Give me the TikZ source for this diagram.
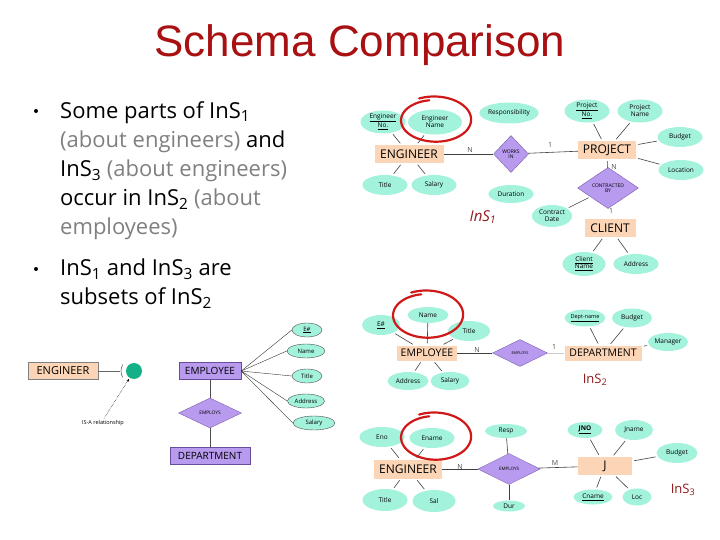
\documentclass[tikz,border=0pt]{standalone}
\usepackage{fontspec}
\setmainfont{Open Sans}
\newfontfamily\titlefont{Liberation Sans}
\usepackage{xcolor}
\usetikzlibrary{arrows.meta, positioning, shapes.geometric}
\definecolor{slidered}{HTML}{A81012}
\definecolor{insred}{HTML}{8E1A1C}
\definecolor{entfill}{HTML}{FBD5B5}
\definecolor{attfill}{HTML}{A3F2DC}
\definecolor{relfill}{HTML}{B89AEE}
\definecolor{reldraw}{HTML}{6A4C9C}
\definecolor{isateal}{HTML}{14B088}
\definecolor{ringred}{HTML}{D01818}
\definecolor{notegray}{HTML}{808080}

\begin{document}
\begin{tikzpicture}[
  x=1pt, y=-1pt,
  every node/.style={inner sep=0pt},
  entity/.style={rectangle, fill=entfill, minimum height=18pt,
    font=\fontsize{12}{12}\selectfont},
  attr/.style={ellipse, fill=attfill, minimum width=45pt, minimum height=21pt,
    align=center, font=\fontsize{6.5}{7}\selectfont},
  rel/.style={diamond, fill=relfill, draw=reldraw, line width=0.3pt,
    align=center, font=\fontsize{5}{5.5}\selectfont},
  link/.style={draw=black!75, line width=0.6pt, shorten <=2pt, shorten >=2pt},
  card/.style={font=\fontsize{7}{7}\selectfont, text=black!70},
  ring/.style={draw=ringred, line width=2.2pt, line cap=round},
  inslbl/.style={text=insred, font=\fontsize{14}{14}\selectfont},
  bulletdot/.style={circle, fill=black, minimum size=4pt},
  bodytext/.style={anchor=north west, align=left,
    font=\fontsize{22}{29}\selectfont}
]
\useasboundingbox (0,0) rectangle (720,540);

%% Title
\node[font=\titlefont\fontsize{44}{44}\selectfont, text=slidered] (title)
  at (360,45) {Schema Comparison};

%% ── BULLETS ─────────────────────────────────────────────
\node[bulletdot] (dot1) at (36,111) {};
\node[bodytext] (txt1) at (60,101)
  {Some parts of InS\textsubscript{1}\\
   \textcolor{notegray}{(about engineers)} and\\
   InS\textsubscript{3} \textcolor{notegray}{(about engineers)}\\
   occur in InS\textsubscript{2} \textcolor{notegray}{(about}\\
   \textcolor{notegray}{employees)}};
\node[bulletdot] (dot2) at (36,269) {};
\node[bodytext] (txt2) at (60,259)
  {InS\textsubscript{1} and InS\textsubscript{3} are\\
   subsets of InS\textsubscript{2}};

%% ── InS1 ────────────────────────────────────────────────
\node[entity, minimum width=69pt] (eng1) at (409,154) {ENGINEER};
\node[attr, minimum height=23pt] (engno) at (383,122)
  {\underline{Engineer}\\\underline{No.}};
\node[attr, minimum width=54pt, minimum height=25pt] (engnm) at (435,122)
  {Engineer\\Name};
\node[attr, minimum width=58pt] (resp1) at (509,113) {Responsibility};
\node[attr, minimum height=20pt] (title1) at (385,185) {Title};
\node[attr, minimum height=20pt] (sal1) at (434,185) {Salary};
\node[rel, minimum width=35pt, minimum height=37pt] (works) at (511,154)
  {WORKS\\IN};
\node[entity, minimum width=58pt] (proj) at (607,150) {PROJECT};
\node[attr, minimum height=23pt] (projno) at (587,111)
  {\underline{Project}\\\underline{No.}};
\node[attr, minimum height=23pt] (projnm) at (640,111) {Project\\Name};
\node[attr, minimum height=20pt] (budg1) at (680,137) {Budget};
\node[attr, minimum height=20pt] (loc1) at (681,170) {Location};
\node[rel, minimum width=61pt, minimum height=31pt] (contr) at (608,188)
  {CONTRACTED\\BY};
\node[attr, minimum height=18pt] (dur1) at (511,194) {Duration};
\node[attr, minimum width=40pt, minimum height=22pt] (cdate) at (552,216)
  {Contract\\Date};
\node[entity, minimum width=51pt] (client) at (610,228) {CLIENT};
\node[attr, minimum width=43pt, minimum height=24pt] (clnm) at (584,264)
  {\underline{Client}\\\underline{Name}};
\node[attr, minimum height=20pt] (claddr) at (636,264) {Address};

\draw[link] (engno) -- (eng1);
\draw[link] (engnm) -- (eng1);
\draw[link] (title1) -- (eng1);
\draw[link] (sal1) -- (eng1);
\draw[link, shorten <=0pt, shorten >=0pt] (eng1) -- (works);
\draw[link, shorten <=0pt, shorten >=0pt] (works) -- (proj);
\draw[link] (projno) -- (proj);
\draw[link] (projnm) -- (proj);
\draw[link] (budg1) -- (proj);
\draw[link] (loc1) -- (proj);
\draw[link, shorten >=0pt] (proj) -- (contr);
\draw[link] (cdate) -- (contr);
\draw[link] (client) -- (clnm);
\draw[link] (client) -- (claddr);

\node[card] (n1a) at (470,150) {N};
\node[card] (n1b) at (550,145) {1};
\node[card] (n1c) at (614,167) {N};
\node[card] (n1d) at (611,211) {1};
\node[inslbl, font=\itshape\fontsize{15}{15}\selectfont] (ins1) at (483,217)
  {InS\textsubscript{1}};

\draw[ring] plot[domain=100:475, samples=90, smooth]
  ({435+(33+0.012*(\x-100))*cos(\x)}, {120-(20+0.01*(\x-100))*sin(\x)});

%% ── InS2 ────────────────────────────────────────────────
\node[entity, minimum width=60pt, minimum height=15pt,
      font=\fontsize{10.5}{10.5}\selectfont] (emp2) at (427,353) {EMPLOYEE};
\node[attr, minimum width=41pt, minimum height=16pt] (nm2) at (428,315) {Name};
\node[attr, minimum width=38pt, minimum height=20pt] (eno2) at (381,325)
  {\underline{E\#}};
\node[attr, minimum width=42pt, minimum height=20pt] (ti2) at (469,331) {Title};
\node[attr, minimum width=41pt, minimum height=18pt] (ad2) at (408,381) {Address};
\node[attr, minimum width=39pt, minimum height=18pt] (sa2) at (450,381) {Salary};
\node[rel, minimum width=55pt, minimum height=27pt,
      font=\fontsize{3.8}{4}\selectfont] (empl2) at (520,353) {EMPLOYS};
\node[entity, minimum width=77pt, minimum height=15pt,
      font=\fontsize{10.5}{10.5}\selectfont] (dept2) at (603,353) {DEPARTMENT};
\node[attr, minimum width=36pt, minimum height=17pt,
      font=\fontsize{5.5}{6}\selectfont] (dn2) at (585,318) {\underline{Dept-name}};
\node[attr, minimum width=40pt, minimum height=19pt] (bu2) at (632,318) {Budget};
\node[attr, minimum width=40pt, minimum height=18pt] (ma2) at (668,342) {Manager};

\draw[link, shorten <=0pt] (nm2) -- (emp2);
\draw[link] (eno2) -- (emp2);
\draw[link] (ti2) -- (emp2);
\draw[link] (ad2) -- (emp2);
\draw[link] (sa2) -- (emp2);
\draw[link, shorten <=0pt, shorten >=0pt] (emp2) -- (empl2);
\draw[link, draw=black!20, shorten <=0pt, shorten >=0pt] (empl2) -- (dept2);
\draw[link] (dn2) -- (dept2);
\draw[link] (bu2) -- (dept2);
\draw[link] (ma2) -- (dept2);

\node[card] (n2a) at (477,350) {N};
\node[card] (n2b) at (554,347) {1};
\node[inslbl, font=\fontsize{13}{13}\selectfont] (ins2) at (595,380)
  {InS\textsubscript{2}};

\draw[ring] plot[domain=100:475, samples=90, smooth]
  ({427+(33+0.012*(\x-100))*cos(\x)}, {315-(21+0.01*(\x-100))*sin(\x)});

%% ── InS3 ────────────────────────────────────────────────
\node[entity, minimum width=68pt, minimum height=19pt] (eng3) at (408,469) {ENGINEER};
\node[attr, minimum height=20pt] (eno3) at (382,437) {Eno};
\node[attr, minimum height=20pt] (enm3) at (432,438) {Ename};
\node[attr, minimum height=22pt] (ti3) at (385,500) {Title};
\node[attr, minimum width=43pt, minimum height=22pt] (sa3) at (434,501) {Sal};
\node[rel, minimum width=62pt, minimum height=31pt,
      font=\fontsize{4.5}{5}\selectfont] (empl3) at (509,469) {EMPLOYS};
\node[attr, minimum width=42pt, minimum height=14pt] (resp3) at (506,431) {Resp};
\node[attr, minimum width=32pt, minimum height=11pt] (dur3) at (509,506) {Dur};
\node[entity, minimum width=54pt] (jent) at (605,466) {J};
\node[attr, minimum width=35pt, minimum height=16pt] (jno3) at (585,430)
  {\underline{\textbf{JNO}}};
\node[attr, minimum width=38pt, minimum height=20pt] (jnm3) at (634,430) {Jname};
\node[attr, minimum width=41pt, minimum height=20pt] (bu3) at (677,453) {Budget};
\node[attr, minimum width=39pt, minimum height=15pt] (cn3) at (593,497)
  {\underline{Cname}};
\node[attr, minimum width=29pt, minimum height=17pt] (lo3) at (637,497) {Loc};

\draw[link] (eno3) -- (eng3);
\draw[link] (enm3) -- (eng3);
\draw[link] (ti3) -- (eng3);
\draw[link] (sa3) -- (eng3);
\draw[link, shorten <=0pt, shorten >=0pt] (eng3) -- (empl3);
\draw[link, shorten <=0pt, shorten >=0pt] (empl3) -- (jent);
\draw[link, shorten <=0pt, shorten >=0pt] (resp3) -- (empl3);
\draw[link, shorten <=0pt, shorten >=0pt] (empl3) -- (dur3);
\draw[link] (jno3) -- (jent);
\draw[link] (jnm3) -- (jent);
\draw[link] (bu3) -- (jent);
\draw[link] (cn3) -- (jent);
\draw[link] (lo3) -- (jent);

\node[card] (n3a) at (460,467) {N};
\node[card] (n3b) at (555,463) {M};
\node[inslbl, font=\fontsize{13}{13}\selectfont] (ins3) at (683,490)
  {InS\textsubscript{3}};

\draw[ring] plot[domain=100:475, samples=90, smooth]
  ({435+(33+0.012*(\x-100))*cos(\x)}, {437-(21+0.01*(\x-100))*sin(\x)});

%% ── IS-A / EMPLOYEE sketch (bottom left) ────────────────
\node[entity, draw=black!50, line width=0.4pt, minimum width=70pt,
      minimum height=17pt, font=\fontsize{11}{11}\selectfont] (eng0) at (63,371)
  {ENGINEER};
\node[circle, fill=isateal, minimum size=16pt] (isa) at (134,371) {};
\coordinate (isaarc) at (120,371);
\draw[black!70, line width=0.5pt] (isa.center) ++(150:13) arc[start angle=150, end angle=210, radius=13];
\draw[black!60, line width=0.4pt] (eng0) -- (isaarc);
\node[font=\fontsize{5.5}{6}\selectfont] (isalbl) at (103,423) {IS-A relationship};
\draw[densely dotted, line width=0.5pt, -{Stealth[length=3pt, width=2.5pt]},
      shorten <=2pt, shorten >=1pt] (isalbl.north) -- (isa);

\node[rectangle, fill=relfill, draw=reldraw, line width=0.5pt,
      minimum width=62pt, minimum height=17pt,
      font=\fontsize{10}{10}\selectfont] (emp0) at (210,371) {EMPLOYEE};
\node[rel, minimum width=63pt, minimum height=30pt,
      font=\fontsize{4.8}{5}\selectfont] (empl0) at (210,413) {EMPLOYS};
\node[rectangle, fill=relfill, draw=reldraw, line width=0.5pt,
      minimum width=80pt, minimum height=17pt,
      font=\fontsize{10}{10}\selectfont] (dept0) at (210,456) {DEPARTMENT};

\foreach \nm/\tx/\yy/\xx/\ww in {a0e/\underline{E\#}/330/307/30, a0n/Name/351/306/38,
    a0t/Title/376/307/30, a0a/Address/401/306/37, a0s/Salary/423/314/42}{
  \node[attr, draw=black!70, line width=0.4pt, minimum width=\ww pt,
        minimum height=14pt, font=\fontsize{6}{6}\selectfont] (\nm) at (\xx,\yy) {\tx};
  \draw[black!80, line width=0.4pt] (emp0.east) -- (\nm.west);
}
\draw[black!70, line width=0.5pt] (emp0) -- (empl0);
\draw[black!70, line width=0.5pt] (empl0) -- (dept0);

\end{tikzpicture}
\end{document}
